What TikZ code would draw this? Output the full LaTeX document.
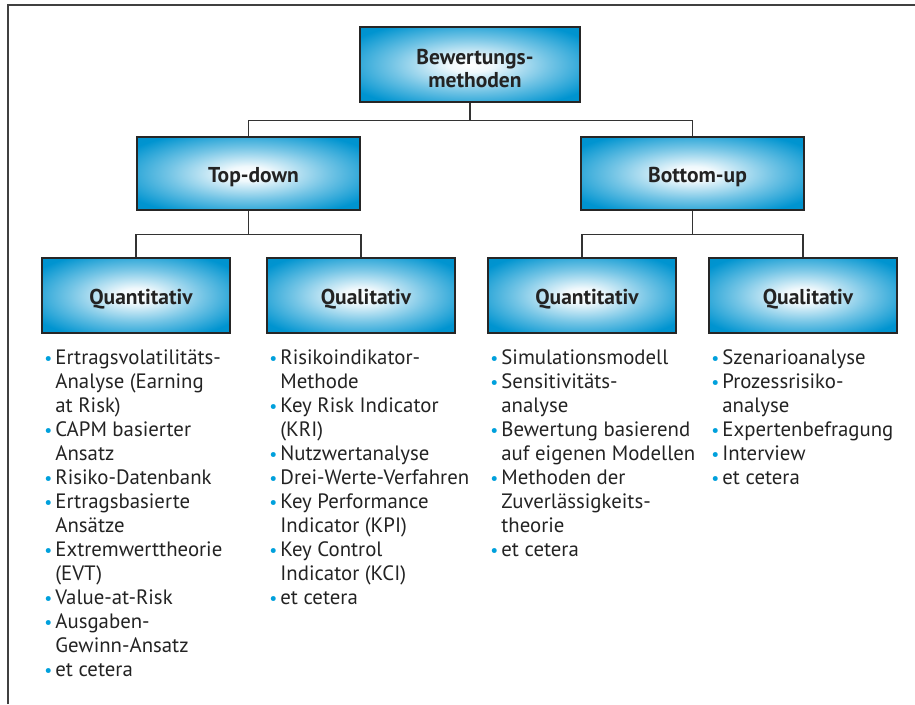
\documentclass[tikz,border=0pt]{standalone}
\usepackage{fontspec}
\usepackage{graphicx}
\setmainfont{PT Sans}
\usetikzlibrary{calc}
\definecolor{bblue}{RGB}{0,148,208}
\definecolor{dotblue}{RGB}{0,160,220}
\definecolor{txt}{RGB}{35,35,35}
\pgfdeclareradialshading{boxshade}{\pgfpoint{0bp}{0bp}}{color(0bp)=(white); color(5bp)=(white!94!bblue); color(18bp)=(white!45!bblue); color(31bp)=(bblue); color(50bp)=(bblue!94!black)}
\newcommand\bul{\makebox[0pt][r]{\textcolor{dotblue}{\scalebox{0.85}{\textbullet}}\hspace{3pt}}}
\newcommand\sh{\hspace*{10pt}\rule{0pt}{23pt}}
\newcommand\shb{\hspace*{10pt}}
\begin{document}
\begin{tikzpicture}[x=1pt,y=-1pt,
  box/.style={draw=black!85, line width=1.6pt, shading=boxshade, inner sep=0pt,
    align=center, text=txt, font=\bfseries\fontsize{21.5}{23}\selectfont},
  topbox/.style={box, minimum width=220pt, minimum height=75pt},
  midbox/.style={box, minimum width=223pt, minimum height=73pt},
  lowbox/.style={box, minimum width=188pt, minimum height=75pt},
  conn/.style={draw=black!80, line width=1.4pt},
  list/.style={anchor=north west, inner sep=0pt, align=left, text=txt,
    font=\fontsize{20.8}{24}\selectfont},
  frame/.style={draw=black!75, line width=1.6pt}]
\useasboundingbox (0,0) rectangle (915,704);
\draw[frame] (8,704) -- (8,5) -- (915,5);

\node[topbox] (top) at (470,64.5) {\sh Bewertungs-\\\shb methoden};
\node[midbox] (td) at (248.5,173.5) {\sh Top-down};
\node[midbox] (bu) at (692.5,173.5) {\sh Bottom-up};
\node[lowbox] (q1) at (136,295.5) {\sh Quantitativ};
\node[lowbox] (q2) at (361,295.5) {\sh Qualitativ};
\node[lowbox] (q3) at (582,295.5) {\sh Quantitativ};
\node[lowbox] (q4) at (803,295.5) {\sh Qualitativ};

\draw[conn] (top.south) -- ++(0,17.5) -| (td.north);
\draw[conn] (top.south) -- ++(0,17.5) -| (bu.north);
\draw[conn] (td.south) -- ++(0,23.5) -| (q1.north);
\draw[conn] (td.south) -- ++(0,23.5) -| (q2.north);
\draw[conn] (bu.south) -- ++(0,23.5) -| (q3.north);
\draw[conn] (bu.south) -- ++(0,23.5) -| (q4.north);

\node[list] (l1) at ($(q1.south west)+(14,16)$) {\bul Ertragsvolatilitäts-\\Analyse (Earning\\at Risk)\\\bul CAPM basierter\\Ansatz\\\bul Risiko-Datenbank\\\bul Ertragsbasierte\\Ansätze\\\bul Extremwerttheorie\\(EVT)\\\bul Value-at-Risk\\\bul Ausgaben-\\Gewinn-Ansatz\\\bul et cetera};
\node[list] (l2) at ($(q2.south west)+(14,16)$) {\bul Risikoindikator-\\Methode\\\bul Key Risk Indicator\\(KRI)\\\bul Nutzwertanalyse\\\bul Drei-Werte-Verfahren\\\bul Key Performance\\Indicator (KPI)\\\bul Key Control\\Indicator (KCI)\\\bul et cetera};
\node[list] (l3) at ($(q3.south west)+(14,16)$) {\bul Simulationsmodell\\\bul Sensitivitäts-\\analyse\\\bul Bewertung basierend\\auf eigenen Modellen\\\bul Methoden der\\Zuverlässigkeits-\\theorie\\\bul et cetera};
\node[list] (l4) at ($(q4.south west)+(14,16)$) {\bul Szenarioanalyse\\\bul Prozessrisiko-\\analyse\\\bul Expertenbefragung\\\bul Interview\\\bul et cetera};
\end{tikzpicture}
\end{document}
